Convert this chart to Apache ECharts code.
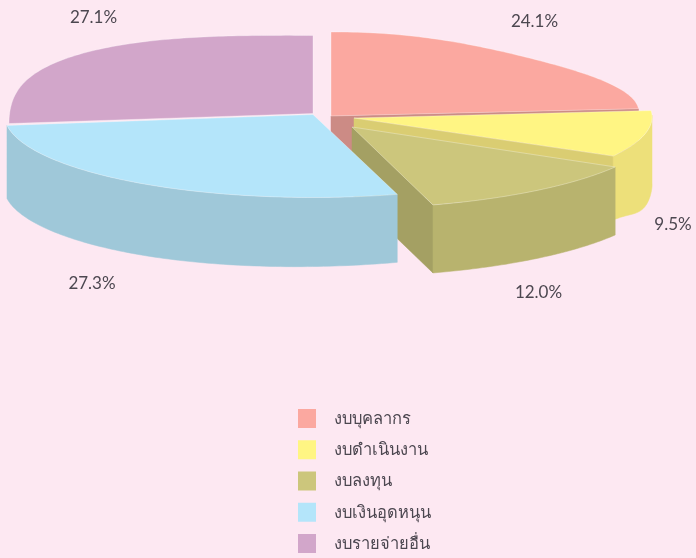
<!DOCTYPE html>
<html><head><meta charset="utf-8">
<style>html,body{margin:0;padding:0;background:#fde8f2}#c{width:696px;height:558px}</style>
<script src="https://cdn.jsdelivr.net/npm/echarts@6/dist/echarts.min.js"></script>
</head><body><div id="c"></div>
<script>
const categories = ['งบบุคลากร','งบดำเนินงาน','งบลงทุน','งบเงินอุดหนุน','งบรายจ่ายอื่น'];
const shareValues = [24.1, 9.5, 12.0, 27.3, 27.1];

// projection of each exploded slice, not data:
// hub, radii, shear, perspective k, rim bulge, wall on/off, wall flare
const sliceGeometry = [
  {cx:331,cy:116,rx:308,ry:84,sx:0,sy:2.5,k:0,bulge:-0.07,wall:false,flareA:0,flareB:0},
  {cx:354,cy:118,rx:298,ry:79,sx:-7,sy:3,k:0,bulge:0,wall:true,flareA:6.5,flareB:-4},
  {cx:352,cy:127,rx:309,ry:81.7,sx:3.5,sy:2.4,k:0,bulge:0,wall:true,flareA:0,flareB:0},
  {cx:313,cy:114.5,rx:308.7,ry:83,sx:0,sy:0,k:0,bulge:0,wall:true,flareA:1,flareB:5},
  {cx:313,cy:113.5,rx:301.4,ry:88.3,sx:0,sy:-1.8,k:0.1316,bulge:0.1,wall:false,flareA:0,flareB:0}
];
const sliceDepth = 68;
const topColors  = ['#fba8a0','#fff583','#ccc67c','#b4e5fa','#d2a6ca'];
const wallColors = ['#d8918a','#ede07a','#b8b36e','#9fc8d9','#b58fae'];
const endColors  = ['#cc8b85','#dacd72','#a4a063','#8fb4c4','#a5829f'];
const labelCentres = [[534.5,22],[673,225],[538.5,293],[92,284],[93.5,18]];
const drawOrder = [2,3,4,5,1];
const fontStack = 'Lato,"Noto Sans",sans-serif';
const textColor = '#4c4750';

const total = shareValues.reduce((a,b)=>a+b,0);
const rad = d => d*Math.PI/180;
function pt(g,deg,scale){
  const s=Math.sin(rad(deg)), c=Math.cos(rad(deg)), w=1+g.k*c;
  const dx=g.rx*s/w+g.sx*c, dy=-g.ry*c/w-g.sy*s;
  return [g.cx+dx*scale, g.cy+dy*scale];
}
// rim points between angles a and b, bulge measured across the slice start..end
function arc(g,a,b,start,end){
  const out=[], n=Math.max(2,Math.ceil(Math.abs(b-a)));
  for(let i=0;i<=n;i++){
    const d=a+(b-a)*i/n, t=(d-start)/(end-start), sn=Math.sin(Math.PI*t);
    out.push(pt(g,d,1+g.bulge*sn*sn));
  }
  return out;
}
const drop = p => [p[0],p[1]+sliceDepth];
const poly = (points,fill,z2,stroke) => ({type:'polygon',z2,shape:{points},
  style:{fill,stroke:stroke||fill,lineWidth:stroke?1:0.5}});

function renderSlice(i){
  return function(params,api){
    const value=api.value(0), start=api.value(1)/total*360;
    const end=start+value/total*360, g=sliceGeometry[i];
    const kids=[];
    const c=[g.cx,g.cy], e=pt(g,end,1);
    if(Math.sin(rad(end))>0.01){
      kids.push(poly([c,e,drop(e),drop(c)],endColors[i],1));
    }
    const a=Math.max(start,90), b=Math.min(end,270);
    if(g.wall && b>a){
      const t=arc(g,a,b,start,end);
      const low=t.map((p,j)=>{
        const f=j/(t.length-1), sn=Math.sin(Math.PI*f);
        return [p[0],p[1]+sliceDepth+g.flareA*sn*sn+g.flareB*f];
      });
      kids.push(poly(t.concat(low.reverse()),wallColors[i],2));
    }
    kids.push(poly([c].concat(arc(g,start,end,start,end)),topColors[i],3,'rgba(255,255,255,0.3)'));
    kids.push({type:'text',z2:4,style:{
      x:labelCentres[i][0],y:labelCentres[i][1],
      text:value.toFixed(1)+'%',fill:textColor,
      font:'17px '+fontStack,align:'center',verticalAlign:'middle'}});
    return {type:'group',children:kids};
  };
}
let cum=0;
const series=categories.map((name,i)=>{
  const s={type:'custom',name,coordinateSystem:'none',z:drawOrder[i],
    itemStyle:{color:topColors[i]},silent:true,animation:false,
    data:[[shareValues[i],cum]],renderItem:renderSlice(i)};
  cum+=shareValues[i];
  return s;
});
const chart=echarts.init(document.getElementById('c'),null,{renderer:'canvas'});
chart.setOption({
  backgroundColor:'#fde8f2',animation:false,
  legend:{orient:'vertical',left:298,top:409,icon:'rect',itemWidth:18,itemHeight:19,itemGap:12.25,
    padding:0,selectedMode:false,data:categories,
    textStyle:{color:textColor,fontSize:16.5,fontFamily:fontStack,padding:[2,0,0,13]}},
  series
});
</script></body></html>
